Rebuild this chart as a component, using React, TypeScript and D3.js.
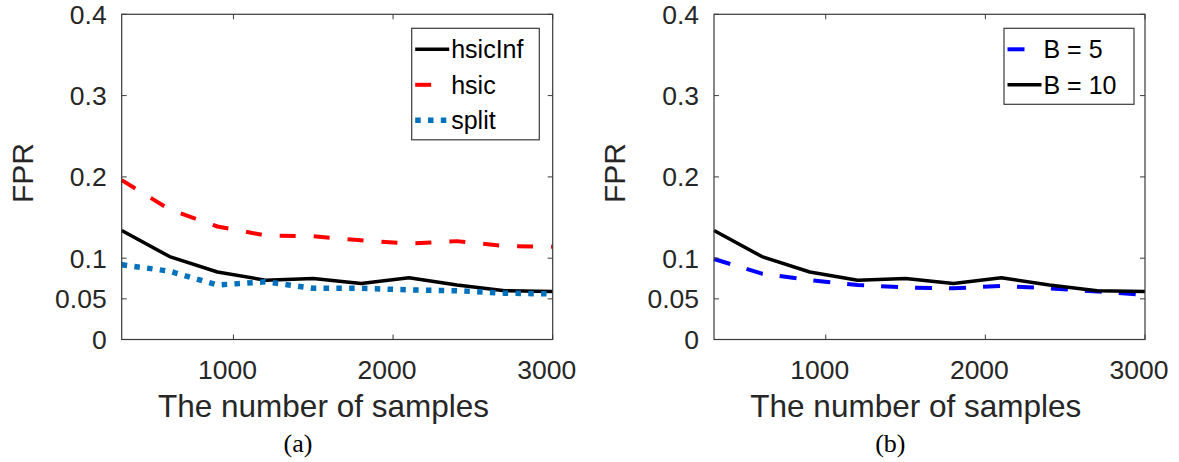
import React from "react";
import * as d3 from "d3";

const samples = [300, 600, 900, 1200, 1500, 1800, 2100, 2400, 2700, 3000];
const hsicInf = [0.134, 0.102, 0.083, 0.073, 0.075, 0.069, 0.076, 0.067, 0.06, 0.059];
const hsic = [0.196, 0.16, 0.139, 0.128, 0.127, 0.122, 0.118, 0.121, 0.115, 0.114];
const split = [0.092, 0.084, 0.067, 0.071, 0.063, 0.063, 0.061, 0.06, 0.057, 0.056];
const b5 = [0.099, 0.081, 0.073, 0.067, 0.064, 0.063, 0.066, 0.063, 0.059, 0.055];
const b10 = [0.134, 0.102, 0.083, 0.073, 0.075, 0.069, 0.076, 0.067, 0.06, 0.059];

const yTicks = [0, 0.05, 0.1, 0.2, 0.3, 0.4];
const xTicks = [1000, 2000, 3000];
const yTickLabels = ["0", "0.05", "0.1", "0.2", "0.3", "0.4"];

type Series = { name: string; values: number[]; color: string; width: number; dash: string | null };

const seriesA: Series[] = [
  { name: "hsicInf", values: hsicInf, color: "#000000", width: 3.5, dash: null },
  { name: "hsic", values: hsic, color: "#FF0000", width: 4, dash: "16 18" },
  { name: "split", values: split, color: "#0072BD", width: 5.5, dash: "5.5 7.3" },
];
const seriesB: Series[] = [
  { name: "B = 5", values: b5, color: "#0000FF", width: 4, dash: "17 17" },
  { name: "B = 10", values: b10, color: "#000000", width: 3.5, dash: null },
];

const FONT = "'Liberation Sans', Arial, Helvetica, sans-serif";
const TXT = "#262626";
const AX = "#3a3a3a";

function Panel({ ox, series, legendW, sub }: { ox: number; series: Series[]; legendW: number; sub: string }) {
  const left = 121.7 + ox;
  const right = 552.7 + ox;
  const top = 14.3;
  const bottom = 339.5;
  const x = d3.scaleLinear().domain([300, 3000]).range([left, right]);
  const y = d3.scaleLinear().domain([0, 0.4]).range([bottom, top]);
  const line = (vals: number[]) =>
    d3.line<number>().x((_, i) => x(samples[i])).y((d) => y(d))(vals) || "";
  const tl = 5;
  const lgX = 411.7 + ox;
  const lgY = 28.3;
  const rowH = 35.5;
  const lgH = series.length * rowH + 5;
  return (
    <g>
      {series.map((s) => (
        <path
          key={s.name}
          d={line(s.values)}
          fill="none"
          stroke={s.color}
          strokeWidth={s.width}
          strokeDasharray={s.dash || undefined}
          strokeLinecap="butt"
          strokeLinejoin="round"
        />
      ))}
      <rect x={left} y={top} width={right - left} height={bottom - top} fill="none" stroke={AX} strokeWidth={1.2} />
      {xTicks.map((t) => (
        <g key={"xt" + t}>
          <line x1={x(t)} x2={x(t)} y1={bottom} y2={bottom - tl} stroke={AX} strokeWidth={1} />
          <line x1={x(t)} x2={x(t)} y1={top} y2={top + tl} stroke={AX} strokeWidth={1} />
          <text x={x(t) - 6} y={379} textAnchor="middle" fontFamily={FONT} fontSize={26.5} fill={TXT}>
            {t}
          </text>
        </g>
      ))}
      {yTicks.map((t, i) => (
        <g key={"yt" + t}>
          <line x1={left} x2={left + tl} y1={y(t)} y2={y(t)} stroke={AX} strokeWidth={1} />
          <line x1={right} x2={right - tl} y1={y(t)} y2={y(t)} stroke={AX} strokeWidth={1} />
          <text x={left - 15} y={y(t)} dy="0.36em" textAnchor="end" fontFamily={FONT} fontSize={26.5} fill={TXT}>
            {yTickLabels[i]}
          </text>
        </g>
      ))}
      <text x={323.5 + ox} y={417} textAnchor="middle" fontFamily={FONT} fontSize={31.5} fill={TXT}>
        The number of samples
      </text>
      <text
        transform={`translate(${33 + ox},${173}) rotate(-90)`}
        textAnchor="middle"
        fontFamily={FONT}
        fontSize={30}
        fill={TXT}
      >
        FPR
      </text>
      <text x={298 + ox} y={452} textAnchor="middle" fontFamily="'Liberation Serif', 'DejaVu Serif', serif" fontSize={26} fill="#000">
        {sub}
      </text>
      <rect x={lgX} y={lgY} width={legendW} height={lgH} fill="#fff" stroke={AX} strokeWidth={1.2} />
      {series.map((s, i) => {
        const cy = lgY + 21 + i * rowH;
        return (
          <g key={"lg" + s.name}>
            <line
              x1={lgX + 3.5}
              x2={lgX + 37.5}
              y1={cy}
              y2={cy}
              stroke={s.color}
              strokeWidth={s.width}
              strokeDasharray={s.dash || undefined}
            />
            <text x={lgX + 39.5} y={cy} dy="0.36em" fontFamily={FONT} fontSize={25} fill="#000">
              {s.name}
            </text>
          </g>
        );
      })}
    </g>
  );
}

export default function App() {
  return (
    <svg
      width={1179}
      height={462}
      viewBox="0 0 1179 462"
      style={{ position: "absolute", left: 0, top: 0, background: "#fff" }}
    >
      <rect x={0} y={0} width={1179} height={462} fill="#fff" />
      <Panel ox={0} series={seriesA} legendW={127.6} sub="(a)" />
      <Panel ox={592.3} series={seriesB} legendW={130} sub="(b)" />
    </svg>
  );
}
